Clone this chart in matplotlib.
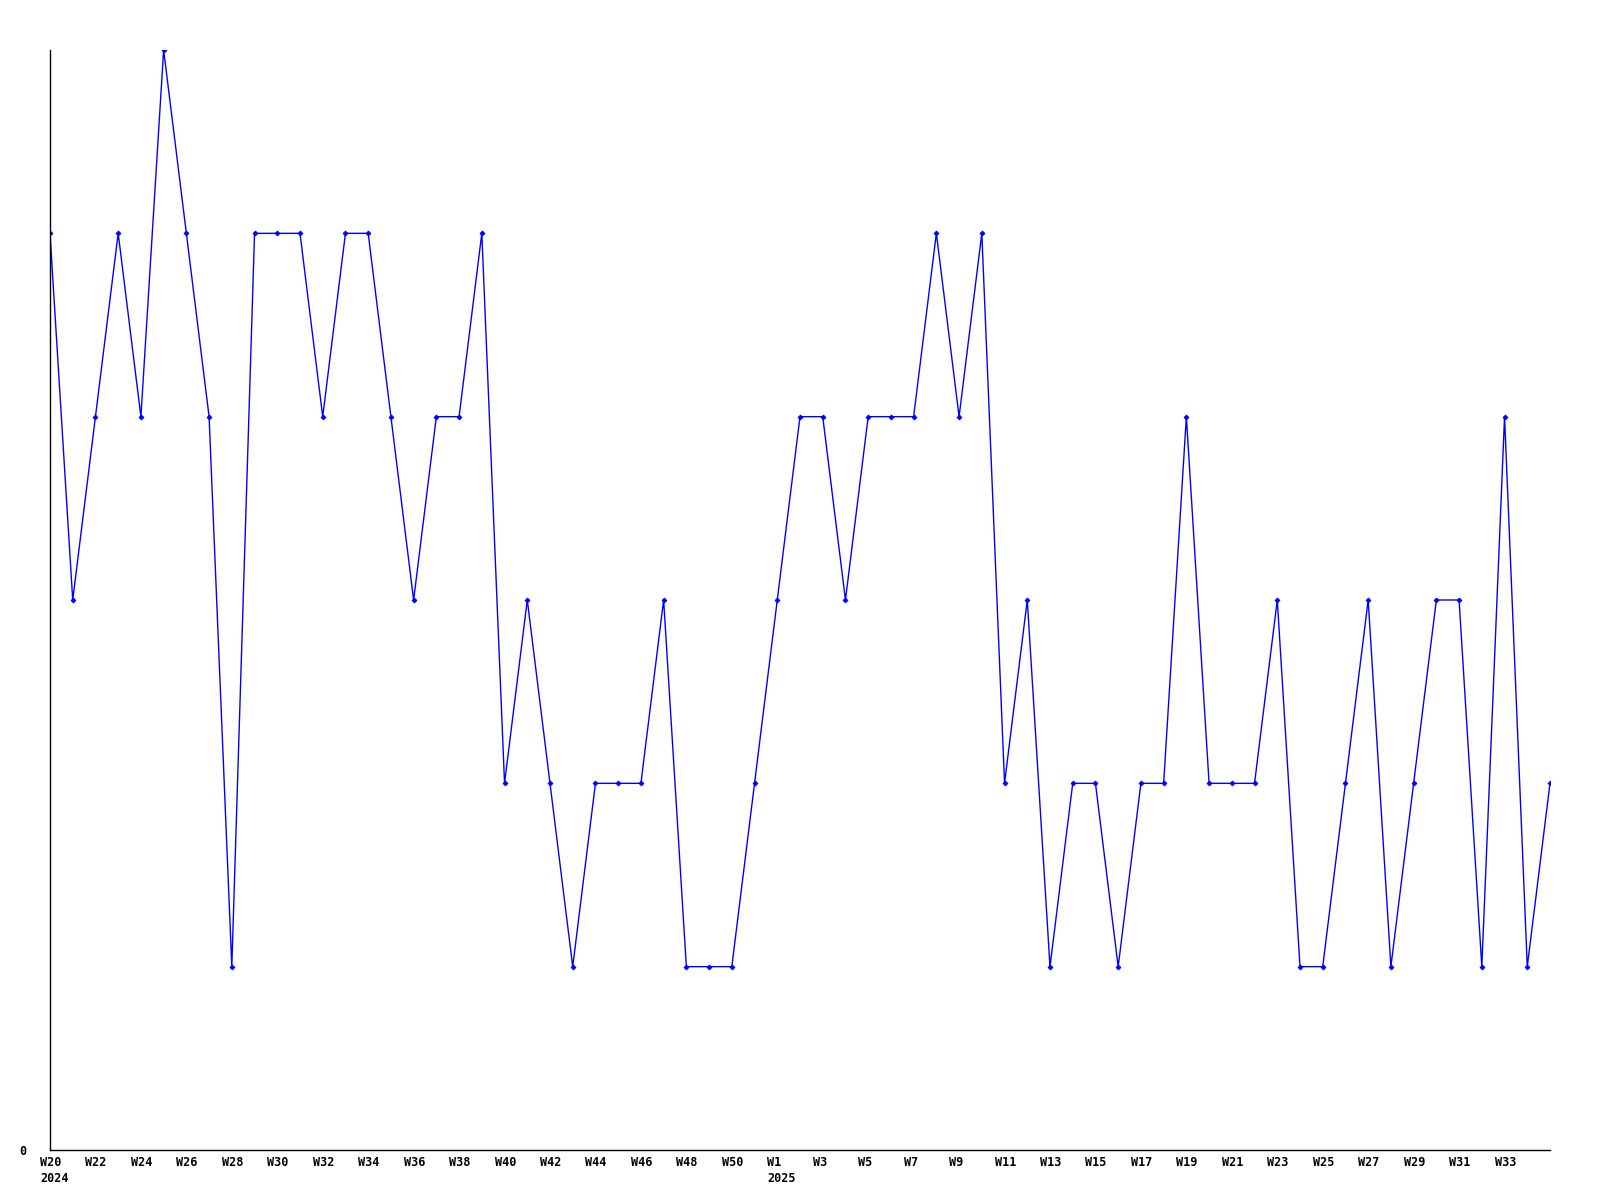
import matplotlib

matplotlib.use("Agg")

import matplotlib.pyplot as plt
import matplotlib.transforms as mtransforms

# weekly values, W20 2024 .. W35 2025
weeks_2024 = [f"W{w}" for w in range(20, 52)]
weeks_2025 = [f"W{w}" for w in range(1, 36)]
values = [
    5, 3, 4, 5, 4, 6, 5, 4, 1, 5, 5, 5, 4, 5, 5, 4, 3, 4, 4, 5,
    2, 3, 2, 1, 2, 2, 2, 3, 1, 1, 1, 2,
    3, 4, 4, 3, 4, 4, 4, 5, 4, 5, 2, 3, 1, 2, 2, 1, 2, 2,
    4, 2, 2, 2, 3, 1, 1, 2, 3, 1, 2, 3, 3, 1, 4, 1, 2,
]
year_labels = {"W20": "2024", "W1": "2025"}

weeks = weeks_2024 + weeks_2025
xs = list(range(len(values)))

fig = plt.figure(figsize=(16, 12), dpi=100)
ax = fig.add_axes([50 / 1600, 50 / 1200, 1500 / 1600, 1100 / 1200])

ax.plot(xs, values, color="#0000ff", linewidth=1.0,
        marker="D", markersize=2.5, markeredgewidth=0.6)

ax.set_xlim(0, len(values) - 1)
ax.set_ylim(0, max(values))

tick_pos = xs[0:65:2]
tick_lab = []
for i in tick_pos:
    lab = weeks[i]
    if lab in year_labels:
        lab = lab + "\n" + year_labels[lab]
    tick_lab.append(lab)

font = dict(family="DejaVu Sans Mono", weight="bold", size=8.5)
ax.set_xticks(tick_pos)
ax.set_xticklabels(tick_lab, ha="left", linespacing=1.3, **font)
ax.set_yticks([0])
ax.set_yticklabels(["0"], **font)
ax.tick_params(axis="both", length=0)
ax.tick_params(axis="x", pad=4)
ax.tick_params(axis="y", pad=22)

# shift week labels left so they start just before the tick
offset = mtransforms.ScaledTranslation(-10 / 100, 0, fig.dpi_scale_trans)
for lbl in ax.get_xticklabels():
    lbl.set_transform(lbl.get_transform() + offset)
# move the lone "0" label right, closer to the axis
yoff = mtransforms.ScaledTranslation(7 / 100, 0, fig.dpi_scale_trans)
for lbl in ax.get_yticklabels():
    lbl.set_transform(lbl.get_transform() + yoff)

for side in ("top", "right"):
    ax.spines[side].set_visible(False)
for side in ("left", "bottom"):
    ax.spines[side].set_linewidth(1.0)
    ax.spines[side].set_color("black")

fig.savefig("out.png", dpi=100)
